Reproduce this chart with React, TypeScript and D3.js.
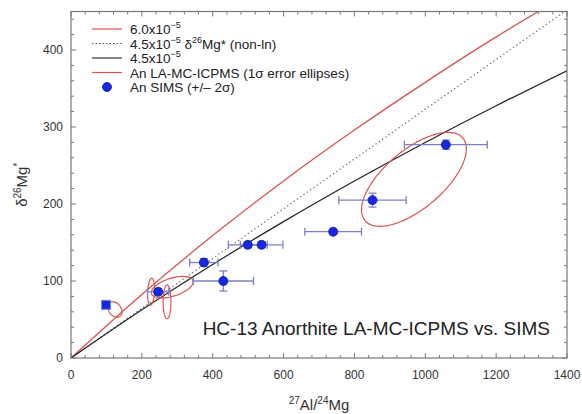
import React from 'react';
import * as d3 from 'd3';

// model curves (27Al/24Mg vs d26Mg*)
const curveX = [0, 200, 400, 600, 800, 1000, 1200, 1400];
const red60 = [0, 82.6, 159, 230, 296, 358, 417, 472];
const dotted45 = [0, 64.6, 129.2, 193.8, 258.4, 323, 387.6, 452.2];
const black45 = [0, 62.6, 121.5, 177.1, 229.8, 279.9, 327.6, 373.1];

// SIMS points with 2 sigma errors
const simsX = [246, 375, 430, 499, 538, 740, 851, 1058];
const simsY = [86, 124, 100, 147, 147, 164, 205, 277];
const simsXErr = [30, 40, 85, 55, 60, 80, 95, 117];
const simsYErr = [4, 5, 13, 4, 4, 3, 9, 6];

// lone square marker
const squareX = [99];
const squareY = [69];

// LA-MC-ICPMS 1 sigma ellipses: center, sigmas, correlation
const ellX = [124, 226, 271, 286, 968];
const ellY = [63, 86, 73, 92, 232];
const ellSx = [20, 10, 11, 59, 148];
const ellSy = [10, 17.5, 22, 14, 61];
const ellRho = [-0.3, 0.2, 0, 0.5, 0.65];

const xTicks = [0, 200, 400, 600, 800, 1000, 1200, 1400];
const yTicks = [0, 100, 200, 300, 400];

const W = 582, H = 414;
const L = 71, R = 567, T = 11.5, B = 358;

const App = () => {
  const x = d3.scaleLinear().domain([0, 1400]).range([L, R]);
  const y = d3.scaleLinear().domain([0, 450]).range([B, T]);

  const mkLine = (ys: number[]) =>
    d3.line<number>()
      .x((_, i) => x(curveX[i]))
      .y(v => y(v))
      .curve(d3.curveMonotoneX)(ys) as string;

  const ellipsePath = (i: number) => {
    const ts = d3.range(0, 2 * Math.PI + 0.01, Math.PI / 60);
    const k = Math.sqrt(1 - ellRho[i] * ellRho[i]);
    return d3.line<number>()
      .x(t => x(ellX[i] + ellSx[i] * Math.cos(t)))
      .y(t => y(ellY[i] + ellSy[i] * (ellRho[i] * Math.cos(t) + k * Math.sin(t))))(ts) as string;
  };

  const minorX = d3.range(0, 1401, 40);
  const minorY = d3.range(0, 451, 20);
  const axisCol = '#777';
  const redCol = '#d9534f';
  const errCol = '#7b80c4';
  const blue = '#1428e6';

  const legendRows = [29, 43.5, 58, 72.5, 87];

  return (
    <svg width={W} height={H} style={{ position: 'absolute', left: 0, top: 0, background: '#fff' }}
      fontFamily="Arial, 'Liberation Sans', sans-serif">
      <defs>
        <clipPath id="plot">
          <rect x={L} y={T} width={R - L} height={B - T} />
        </clipPath>
      </defs>
      <rect width={W} height={H} fill="#fff" />

      {/* ticks (inward, all four sides) */}
      <g stroke={axisCol} strokeWidth={1}>
        {minorX.map(v => (
          <g key={'x' + v}>
            <line x1={x(v)} x2={x(v)} y1={B} y2={B - (v % 200 === 0 ? 5 : 3)} />
            <line x1={x(v)} x2={x(v)} y1={T} y2={T + (v % 200 === 0 ? 5 : 3)} />
          </g>
        ))}
        {minorY.map(v => (
          <g key={'y' + v}>
            <line x1={L} x2={L + (v % 100 === 0 ? 5 : 3)} y1={y(v)} y2={y(v)} />
            <line x1={R} x2={R - (v % 100 === 0 ? 5 : 3)} y1={y(v)} y2={y(v)} />
          </g>
        ))}
      </g>

      <g clipPath="url(#plot)">
        <path d={mkLine(red60)} fill="none" stroke={redCol} strokeWidth={1.3} />
        <path d={mkLine(dotted45)} fill="none" stroke="#777" strokeWidth={1.2} strokeDasharray="1.5,2.5" />
        <path d={mkLine(black45)} fill="none" stroke="#222" strokeWidth={1.2} />
        {ellX.map((_, i) => (
          <path key={'e' + i} d={ellipsePath(i)} fill="none" stroke={redCol} strokeWidth={1.2} />
        ))}
        {simsX.map((v, i) => (
          <g key={'s' + i} stroke={errCol} strokeWidth={1.3}>
            <line x1={x(v - simsXErr[i])} x2={x(v + simsXErr[i])} y1={y(simsY[i])} y2={y(simsY[i])} />
            <line x1={x(v - simsXErr[i])} x2={x(v - simsXErr[i])} y1={y(simsY[i]) - 4} y2={y(simsY[i]) + 4} />
            <line x1={x(v + simsXErr[i])} x2={x(v + simsXErr[i])} y1={y(simsY[i]) - 4} y2={y(simsY[i]) + 4} />
            <line x1={x(v)} x2={x(v)} y1={y(simsY[i] - simsYErr[i])} y2={y(simsY[i] + simsYErr[i])} />
            <line x1={x(v) - 4} x2={x(v) + 4} y1={y(simsY[i] - simsYErr[i])} y2={y(simsY[i] - simsYErr[i])} />
            <line x1={x(v) - 4} x2={x(v) + 4} y1={y(simsY[i] + simsYErr[i])} y2={y(simsY[i] + simsYErr[i])} />
          </g>
        ))}
        {simsX.map((v, i) => (
          <circle key={'c' + i} cx={x(v)} cy={y(simsY[i])} r={4.5} fill={blue} stroke="#10188a" strokeWidth={0.8} />
        ))}
        {squareX.map((v, i) => (
          <rect key={'q' + i} x={x(v) - 4.5} y={y(squareY[i]) - 4.5} width={9} height={9}
            fill={blue} stroke={errCol} strokeWidth={1} />
        ))}
      </g>

      {/* frame */}
      <rect x={L} y={T} width={R - L} height={B - T} fill="none" stroke={axisCol} strokeWidth={1.2} />

      {/* tick labels */}
      <g fontSize={12} fill="#333">
        {xTicks.map(v => (
          <text key={'xl' + v} x={x(v)} y={B + 21} textAnchor="middle">{v}</text>
        ))}
        {yTicks.map(v => (
          <text key={'yl' + v} x={L - 8} y={y(v) + 4} textAnchor="end">{v}</text>
        ))}
      </g>

      {/* axis titles */}
      <text x={x(700)} y={410} textAnchor="middle" fontSize={15} fill="#333">
        <tspan fontSize={10} dy={-6}>27</tspan>
        <tspan dy={6}>Al/</tspan>
        <tspan fontSize={10} dy={-6}>24</tspan>
        <tspan dy={6}>Mg</tspan>
      </text>
      <text transform={`translate(27,${(T + B) / 2}) rotate(-90)`} textAnchor="middle" fontSize={15} fill="#333">
        <tspan>δ</tspan>
        <tspan fontSize={10} dy={-6}>26</tspan>
        <tspan dy={6}>Mg</tspan>
        <tspan fontSize={10} dy={-6}>*</tspan>
      </text>

      {/* legend */}
      <g fontSize={13.5} fill="#222">
        <line x1={92} x2={122} y1={legendRows[0]} y2={legendRows[0]} stroke={redCol} strokeWidth={1.2} />
        <text x={130} y={legendRows[0] + 5}>6.0x10<tspan fontSize={9} dy={-6}>−5</tspan></text>

        <line x1={92} x2={122} y1={legendRows[1]} y2={legendRows[1]} stroke="#555" strokeWidth={1.2} strokeDasharray="1.5,2" />
        <text x={130} y={legendRows[1] + 5}>4.5x10<tspan fontSize={9} dy={-6}>−5</tspan><tspan dy={6}> δ</tspan><tspan fontSize={9} dy={-6}>26</tspan><tspan dy={6}>Mg* (non-ln)</tspan></text>

        <line x1={92} x2={122} y1={legendRows[2]} y2={legendRows[2]} stroke="#333" strokeWidth={1.2} />
        <text x={130} y={legendRows[2] + 5}>4.5x10<tspan fontSize={9} dy={-6}>−5</tspan></text>

        <line x1={92} x2={122} y1={legendRows[3]} y2={legendRows[3]} stroke={redCol} strokeWidth={1.2} />
        <text x={130} y={legendRows[3] + 5}>An LA-MC-ICPMS (1σ error ellipses)</text>

        <circle cx={107} cy={legendRows[4]} r={4.5} fill={blue} stroke="#10188a" strokeWidth={0.8} />
        <text x={130} y={legendRows[4] + 5}>An SIMS (+/– 2σ)</text>
      </g>

      <text x={550} y={335} textAnchor="end" fontSize={19} fill="#222">HC-13 Anorthite LA-MC-ICPMS vs. SIMS</text>
    </svg>
  );
};

export default App;
